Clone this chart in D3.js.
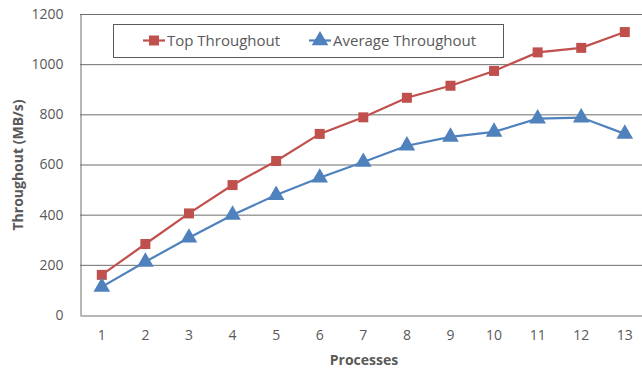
<!DOCTYPE html>
<html><head><meta charset="utf-8">
<script src="https://cdn.jsdelivr.net/npm/d3@7"></script>
<style>body{margin:0;background:#fff}svg{display:block}</style>
</head><body>
<svg id="c" width="642" height="373"></svg>
<script>
const processes = [1,2,3,4,5,6,7,8,9,10,11,12,13];
const topThroughput = [160,283,405,518,614,722,788,866,914,973,1047,1065,1128];
const avgThroughput = [112,212,308,399,478,547,610,675,710,730,783,787,722];
const yTicks = [0,200,400,600,800,1000,1200];
const seriesNames = ["Top Throughout","Average Throughout"];

const svg = d3.select("#c");
const mL = 80, mR = 646.6, mT = 14, mB = 315;
const font = "'Open Sans', 'Noto Sans', sans-serif";
const x = d3.scaleBand().domain(processes).range([mL, mR]);
const y = d3.scaleLinear().domain([0,1200]).range([mB, mT]);

// gridlines
svg.append("g").selectAll("line").data(yTicks.filter(d=>d>0)).join("line")
  .attr("x1", mL).attr("x2", 642).attr("y1", d=>y(d)+0.5).attr("y2", d=>y(d)+0.5)
  .attr("stroke", "#6e6e6e").attr("stroke-width", 1);

// y axis
const ya = svg.append("g").attr("transform", `translate(${mL+0.5},0)`)
  .call(d3.axisLeft(y).tickValues(yTicks).tickFormat(d3.format("d")).tickSize(0).tickPadding(17));
ya.select(".domain").attr("stroke", "#6e6e6e");
ya.selectAll("text").attr("font-family", font).attr("font-size", 14).attr("fill", "#595959");

// x axis
const xa = svg.append("g").attr("transform", `translate(0,${mB+0.5})`)
  .call(d3.axisBottom(x).tickSize(0).tickPadding(15));
xa.select(".domain").attr("stroke", "#6e6e6e");
xa.selectAll("text").attr("font-family", font).attr("font-size", 14).attr("fill", "#595959");

const cx = d => x(d) + x.bandwidth()/2;
const line = d3.line().x((d,i)=>cx(processes[i])).y(d=>y(d));
const red = "#C0504D", blue = "#4F81BD";

svg.append("path").datum(topThroughput).attr("d", line).attr("fill","none").attr("stroke", red).attr("stroke-width", 2.2);
svg.append("path").datum(avgThroughput).attr("d", line).attr("fill","none").attr("stroke", blue).attr("stroke-width", 2.2);

const sq = d3.symbol().type(d3.symbolSquare).size(100);
const tri = d3.symbol().type(d3.symbolTriangle).size(120);
svg.append("g").selectAll("path").data(topThroughput).join("path")
  .attr("d", sq).attr("transform", (d,i)=>`translate(${cx(processes[i])},${y(d)})`).attr("fill", red);
svg.append("g").selectAll("path").data(avgThroughput).join("path")
  .attr("d", tri).attr("transform", (d,i)=>`translate(${cx(processes[i])},${y(d)})`).attr("fill", blue);

// legend
svg.append("rect").attr("x", 113.5).attr("y", 24.5).attr("width", 390).attr("height", 33)
  .attr("fill", "#fff").attr("stroke", "#595959").attr("stroke-width", 1);
const lg = [{name: seriesNames[0], c: red, s: sq, x: 143}, {name: seriesNames[1], c: blue, s: tri, x: 309}];
lg.forEach(l => {
  svg.append("line").attr("x1", l.x).attr("x2", l.x+22).attr("y1", 40.5).attr("y2", 40.5).attr("stroke", l.c).attr("stroke-width", 2.2);
  svg.append("path").attr("d", l.s).attr("transform", `translate(${l.x+11},40.5)`).attr("fill", l.c);
  svg.append("text").attr("x", l.x+24).attr("y", 46).text(l.name)
    .attr("font-family", font).attr("font-size", 15).attr("fill", "#595959");
});

// axis titles
svg.append("text").attr("x", 364).attr("y", 365).attr("text-anchor", "middle").text("Processes")
  .attr("font-family", font).attr("font-size", 14).attr("font-weight", "bold").attr("fill", "#595959");
svg.append("text").attr("transform", "translate(23,165) rotate(-90)").attr("text-anchor", "middle").text("Throughout (MB/s)")
  .attr("font-family", font).attr("font-size", 14).attr("font-weight", "bold").attr("fill", "#595959");
</script>
</body></html>
